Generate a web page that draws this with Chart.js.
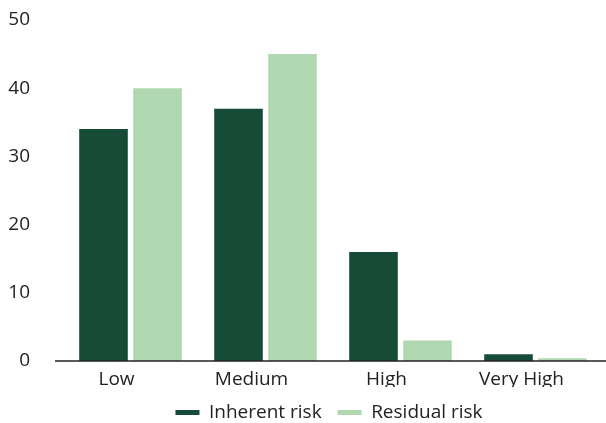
<!DOCTYPE html>
<html>
<head>
<meta charset="utf-8">
<script src="https://cdn.jsdelivr.net/npm/chart.js@4"></script>
<style>
  html, body { margin: 0; padding: 0; background: #ffffff; }
  #wrap { width: 606px; height: 423px; position: relative; }
</style>
</head>
<body>
<div id="wrap"><canvas id="c"></canvas></div>
<script>
const categories = ['Low', 'Medium', 'High', 'Very High'];
const inherentRisk = [34, 37, 16, 1];
const residualRisk = [40, 45, 3, 0.4];
const yTicks = [0, 10, 20, 30, 40, 50];

const FONT = '"Open Sans", Lato, sans-serif';
const INK = '#222222';

// baseline drawn a little wider than the plot area, as a thin dark rule
const baseline = {
  id: 'baseline',
  afterDatasetsDraw(chart) {
    const { ctx, scales } = chart;
    const y = scales.y.getPixelForValue(0);
    ctx.save();
    ctx.strokeStyle = INK;
    ctx.lineWidth = 1.5;
    ctx.beginPath();
    ctx.moveTo(55, y);
    ctx.lineTo(606, y);
    ctx.stroke();
    ctx.restore();
  }
};

// centre the legend under the plot area rather than the whole canvas
const legendShift = {
  id: 'legendShift',
  afterLayout(chart) {
    const lg = chart.legend;
    if (!lg) return;
    const ca = chart.chartArea;
    const dx = (ca.left + ca.right) / 2 - (lg.left + lg.right) / 2 - 4;
    lg.left += dx;
    lg.right += dx;
  }
};

new Chart(document.getElementById('c'), {
  type: 'bar',
  data: {
    labels: categories,
    datasets: [
      { label: 'Inherent risk', data: inherentRisk, backgroundColor: '#164b38' },
      { label: 'Residual risk', data: residualRisk, backgroundColor: '#afd8b1' }
    ]
  },
  options: {
    responsive: true,
    maintainAspectRatio: false,
    animation: false,
    layout: { padding: { top: 20, right: 3, left: 0, bottom: 0 } },
    datasets: { bar: { categoryPercentage: 0.8, barPercentage: 0.9 } },
    plugins: {
      tooltip: { enabled: false },
      legend: {
        position: 'bottom',
        maxHeight: 36,
        labels: {
          boxWidth: 24,
          boxHeight: 5,
          padding: 16,
          color: INK,
          font: { family: FONT, size: 19 }
        }
      }
    },
    scales: {
      x: {
        afterFit: s => { s.height = 26; },
        grid: { display: false, drawTicks: false },
        border: { display: false },
        ticks: { color: INK, padding: 7, labelOffset: -14, font: { family: FONT, size: 19 } }
      },
      y: {
        min: 0,
        max: 50,
        afterBuildTicks: s => { s.ticks = yTicks.map(v => ({ value: v })); },
        afterFit: s => { s.width = 63; s.paddingTop = 0; s.paddingBottom = 0; },
        grid: { display: false, drawTicks: false },
        border: { display: false },
        ticks: { color: INK, padding: 33, font: { family: FONT, size: 19 } }
      }
    }
  },
  plugins: [baseline, legendShift]
});
</script>
</body>
</html>
